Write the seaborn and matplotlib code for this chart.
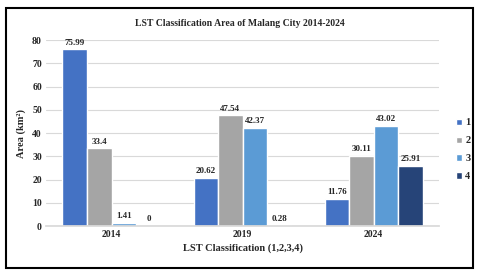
import pandas as pd
import matplotlib.pyplot as plt
import seaborn as sns
from matplotlib.patches import Rectangle

# data
years = ['2014', '2019', '2024']
classes = ['1', '2', '3', '4']
class1 = [75.99, 20.62, 11.76]
class2 = [33.4, 47.54, 30.11]
class3 = [1.41, 42.37, 43.02]
class4 = [0, 0.28, 25.91]
colors = ['#4472C4', '#A5A5A5', '#5B9BD5', '#264478']

rows = []
for cls, vals in zip(classes, [class1, class2, class3, class4]):
    for yr, v in zip(years, vals):
        rows.append({'Year': yr, 'Class': cls, 'Area': v})
df = pd.DataFrame(rows)

sns.set_theme(style='white')
plt.rcParams['font.family'] = ['Liberation Serif', 'DejaVu Serif']
plt.rcParams['font.weight'] = 'bold'

fig = plt.figure(figsize=(4.8, 2.74), dpi=100)
ax = fig.add_axes([0.096, 0.175, 0.819, 0.679])

sns.barplot(data=df, x='Year', y='Area', hue='Class', palette=colors,
            width=0.75, saturation=1, ax=ax, legend=True)

for cont in ax.containers:
    ax.bar_label(cont, labels=[f'{v:g}' for v in cont.datavalues],
                 padding=2, fontsize=6.5, fontweight='bold')

ax.set_ylim(0, 80)
ax.set_yticks(range(0, 81, 10))
ax.yaxis.grid(True, color='#D9D9D9', linewidth=0.8)
ax.set_axisbelow(True)
for s in ['top', 'right', 'left']:
    ax.spines[s].set_visible(False)
ax.spines['bottom'].set_color('#D9D9D9')
ax.tick_params(axis='both', labelsize=7, length=0, pad=3)
for lab in ax.get_xticklabels() + ax.get_yticklabels():
    lab.set_fontweight('bold')

ax.set_xlabel('LST Classification (1,2,3,4)', fontsize=7.5, fontweight='bold', labelpad=3)
ax.set_ylabel('Area (km²)', fontsize=7.5, fontweight='bold', labelpad=4)

leg = ax.legend(loc='center left', bbox_to_anchor=(1.02, 0.41), frameon=False,
                handlelength=0.55, handleheight=0.55, handletextpad=0.3,
                labelspacing=0.85, prop={'size': 7.5, 'weight': 'bold'})

fig.text(0.5, 0.915, 'LST Classification Area of Malang City 2014-2024',
         ha='center', va='center', fontsize=7, fontweight='bold')

fig.patches.append(Rectangle((6 / 480, 6 / 274), 467 / 480, 260 / 274,
                             transform=fig.transFigure, fill=False,
                             edgecolor='black', linewidth=1.5))

fig.savefig('out.png', dpi=100)
